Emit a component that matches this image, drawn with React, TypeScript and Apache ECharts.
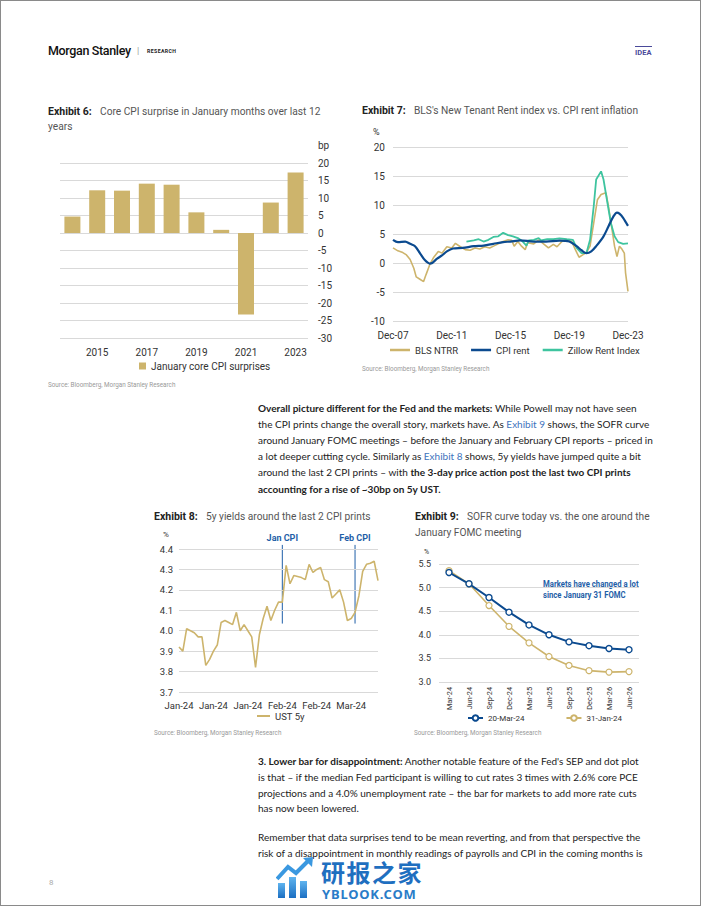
import React, { useEffect, useRef } from "react";
import * as echarts from "echarts";

// ---------- DATA ----------
const ex6Years = ["2014", "2015", "2016", "2017", "2018", "2019", "2020", "2021", "2022", "2023"];
const ex6Values = [4.7, 12.2, 12.1, 14.1, 13.8, 5.9, 0.9, -23.3, 8.7, 17.3];

const ex7XLabels = ["Dec-07", "Dec-11", "Dec-15", "Dec-19", "Dec-23"];
// months since Dec-07
const ntrrMonths = [0, 4, 8, 11, 14, 17, 19, 22, 25, 27, 30, 33, 37, 40, 44, 48, 51, 55, 59, 63, 67, 71, 75, 79, 83, 87, 90, 94, 97, 99, 102, 105, 108, 110, 115, 119, 123, 127, 131, 134, 138, 142, 146, 149, 152, 155, 158, 161, 164, 167, 170, 174, 176, 179, 181, 183, 185, 187, 189, 190, 192];
const ntrrValues = [2.6, 2.1, 1.8, 1.4, 0.6, -0.9, -2.4, -2.8, -3.2, -2.0, -0.3, 0.9, 2.0, 1.7, 2.8, 2.6, 3.4, 2.8, 2.3, 2.2, 2.6, 2.4, 2.8, 2.6, 3.0, 3.4, 3.7, 4.0, 3.9, 2.9, 3.7, 2.9, 2.3, 3.5, 3.3, 4.0, 3.3, 2.6, 3.2, 2.8, 3.7, 4.0, 3.7, 2.3, 1.0, 1.4, 1.8, 2.9, 6.9, 10.9, 11.8, 12.1, 9.8, 5.7, 2.9, 1.1, 2.9, 2.4, 1.7, -1.7, -4.9];
const cpiRentMonths = [0, 4, 10, 14, 18, 22, 26, 30, 32, 36, 40, 44, 49, 57, 66, 74, 82, 90, 96, 104, 115, 125, 136, 144, 150, 154, 158, 162, 166, 172, 176, 180, 183, 185, 188, 192];
const cpiRentValues = [4.0, 3.6, 3.7, 3.3, 2.9, 1.7, 0.5, -0.1, 0.0, 0.75, 1.3, 2.0, 2.5, 2.6, 2.9, 3.0, 3.3, 3.6, 3.7, 3.9, 3.7, 3.7, 3.85, 3.7, 2.9, 2.2, 1.7, 2.0, 2.9, 4.6, 6.3, 8.0, 8.7, 8.5, 7.8, 6.4];
const zillowMonths = [60, 66, 70, 74, 78, 82, 86, 90, 94, 98, 102, 106, 109, 111, 115, 119, 121, 126, 131, 136, 142, 147, 150, 154, 158, 161, 164, 166, 170, 172, 175, 178, 181, 184, 188, 192];
const zillowValues = [3.7, 3.9, 4.1, 3.7, 4.0, 4.5, 4.6, 5.2, 4.8, 4.6, 4.3, 3.7, 3.0, 3.9, 4.0, 4.3, 3.9, 4.1, 4.1, 4.25, 4.1, 4.0, 2.6, 1.7, 1.7, 4.0, 9.8, 14.4, 15.8, 14.4, 10.6, 6.9, 4.6, 3.6, 3.3, 3.4];

const ex8Dates = [
  "2024-01-04", "2024-01-05", "2024-01-08", "2024-01-09", "2024-01-10", "2024-01-11", "2024-01-12", "2024-01-16", "2024-01-17", "2024-01-18",
  "2024-01-19", "2024-01-22", "2024-01-23", "2024-01-24", "2024-01-25", "2024-01-26", "2024-01-29", "2024-01-30", "2024-01-31",
  "2024-02-01", "2024-02-02", "2024-02-05", "2024-02-06", "2024-02-07", "2024-02-08", "2024-02-09", "2024-02-12", "2024-02-13", "2024-02-14",
  "2024-02-15", "2024-02-16", "2024-02-20", "2024-02-21", "2024-02-22", "2024-02-23", "2024-02-26", "2024-02-27", "2024-02-28", "2024-02-29",
  "2024-03-01", "2024-03-04", "2024-03-05", "2024-03-06", "2024-03-07", "2024-03-08", "2024-03-11", "2024-03-12", "2024-03-13", "2024-03-14",
  "2024-03-15", "2024-03-18", "2024-03-19", "2024-03-20",
];
const ex8Values = [3.92, 3.90, 4.01, 4.00, 3.99, 3.97, 3.97, 3.83, 3.86, 3.90, 3.93, 4.04, 4.05, 4.04, 4.03, 4.09, 4.00, 4.03, 4.00, 3.97, 3.82, 3.98, 4.06, 4.12, 4.05, 4.10, 4.14, 4.14, 4.32, 4.23, 4.27, 4.265, 4.26, 4.25, 4.325, 4.285, 4.30, 4.31, 4.25, 4.24, 4.16, 4.18, 4.20, 4.14, 4.05, 4.06, 4.09, 4.17, 4.29, 4.325, 4.33, 4.34, 4.245];
const ex8Events = [
  { date: "2024-02-13", label: "Jan CPI", from: 4.035, to: 4.42 },
  { date: "2024-03-12", label: "Feb CPI", from: 4.035, to: 4.42 },
];
const monthNames = ["Jan", "Feb", "Mar", "Apr", "May", "Jun", "Jul", "Aug", "Sep", "Oct", "Nov", "Dec"];

const ex9Cats = ["Mar-24", "Jun-24", "Sep-24", "Dec-24", "Mar-25", "Jun-25", "Sep-25", "Dec-25", "Mar-26", "Jun-26"];
const ex9Mar20 = [5.32, 5.08, 4.79, 4.48, 4.21, 4.0, 3.85, 3.77, 3.71, 3.685];
const ex9Jan31 = [5.36, 5.08, 4.62, 4.18, 3.83, 3.54, 3.35, 3.24, 3.21, 3.22];

// ---------- STYLE ----------
const GOLD = "#CDB46C";
const NAVY = "#0B4A8F";
const TEAL = "#3EC49F";
const LINK = "#1F5FA8";
const GRID = "#D9D9D9";
const AX = "#333";
const FONT = "Roboto";

function Chart({ option, style, after }: { option: any; style: React.CSSProperties; after?: (c: any) => void }) {
  const ref = useRef<HTMLDivElement>(null);
  useEffect(() => {
    const c = echarts.init(ref.current!, null, { renderer: "svg" });
    c.setOption(option);
    if (after) after(c);
    return () => c.dispose();
  }, []);
  return <div ref={ref} style={{ position: "absolute", ...style }} />;
}

const ex6Option = {
  animation: false,
  textStyle: { fontFamily: FONT },
  grid: { left: 20, top: 28, width: 248, height: 175 },
  xAxis: {
    type: "category",
    data: ex6Years,
    axisLine: { show: false },
    axisTick: { show: false },
    axisLabel: { interval: (i: number) => i % 2 === 1, color: AX, fontSize: 10, margin: 9 },
  },
  yAxis: {
    type: "value",
    position: "right",
    min: -30,
    max: 20,
    interval: 5,
    axisLine: { show: false },
    axisTick: { show: false },
    axisLabel: { color: AX, fontSize: 10, margin: 10 },
    splitLine: { lineStyle: { color: GRID } },
  },
  legend: {
    top: 221,
    left: 94,
    icon: "rect",
    itemWidth: 7,
    itemHeight: 7,
    textStyle: { color: AX, fontSize: 10, fontFamily: FONT },
    data: ["January core CPI surprises"],
  },
  graphic: [
    { type: "text", x: 278, y: 10, style: { text: "bp", fill: AX, font: "10px Roboto", textVerticalAlign: "middle" } },
  ],
  series: [
    { type: "bar", name: "January core CPI surprises", data: ex6Values, barWidth: 16, itemStyle: { color: GOLD } },
  ],
};

const zip = (a: number[], b: number[]) => a.map((v, i) => [v, b[i]]);

const ex7Option = {
  animation: false,
  textStyle: { fontFamily: FONT },
  grid: { left: 38, top: 27, width: 235, height: 174 },
  xAxis: {
    type: "value",
    min: 0,
    max: 192,
    interval: 48,
    splitLine: { show: false },
    axisLine: { show: false },
    axisTick: { show: false },
    axisLabel: { formatter: (v: number) => ex7XLabels[v / 48], color: AX, fontSize: 10, margin: 9 },
  },
  yAxis: {
    type: "value",
    min: -10,
    max: 20,
    interval: 5,
    axisLine: { show: false },
    axisTick: { show: false },
    axisLabel: { color: AX, fontSize: 10, margin: 8 },
    splitLine: { lineStyle: { color: GRID } },
  },
  legend: {
    top: 220,
    left: 30,
    icon: "rect",
    itemWidth: 20,
    itemHeight: 2.5,
    itemGap: 13,
    textStyle: { color: AX, fontSize: 9.5, fontFamily: FONT },
    data: ["BLS NTRR", "CPI rent", "Zillow Rent Index"],
  },
  graphic: [
    { type: "text", x: 18, y: 12, style: { text: "%", fill: AX, font: "9px Roboto", textVerticalAlign: "middle" } },
  ],
  series: [
    { type: "line", name: "BLS NTRR", data: zip(ntrrMonths, ntrrValues), showSymbol: false, lineStyle: { color: GOLD, width: 1.6 }, itemStyle: { color: GOLD } },
    { type: "line", name: "Zillow Rent Index", data: zip(zillowMonths, zillowValues), showSymbol: false, lineStyle: { color: TEAL, width: 1.8 }, itemStyle: { color: TEAL } },
    { type: "line", name: "CPI rent", data: zip(cpiRentMonths, cpiRentValues), showSymbol: false, smooth: 0.3, lineStyle: { color: NAVY, width: 2.2 }, itemStyle: { color: NAVY } },
  ],
};

const ex8Option = {
  animation: false,
  textStyle: { fontFamily: FONT },
  grid: { left: 34, top: 24, width: 199, height: 143 },
  xAxis: {
    type: "category",
    data: ex8Dates,
    boundaryGap: false,
    axisLine: { show: false },
    axisTick: { show: false },
    axisLabel: {
      interval: 8,
      color: AX,
      fontSize: 9.5,
      margin: 8,
      formatter: (d: string) => monthNames[parseInt(d.slice(5, 7), 10) - 1] + "-" + d.slice(2, 4),
    },
  },
  yAxis: {
    type: "value",
    min: 3.7,
    max: 4.4,
    interval: 0.1,
    axisLine: { show: false },
    axisTick: { show: false },
    axisLabel: { color: AX, fontSize: 9.5, margin: 6, formatter: (v: number) => v.toFixed(1) },
    splitLine: { lineStyle: { color: GRID } },
  },
  legend: {
    top: 181,
    left: 107,
    icon: "rect",
    itemWidth: 13,
    itemHeight: 2,
    textStyle: { color: AX, fontSize: 9.5, fontFamily: FONT },
    data: ["UST 5y"],
  },
  graphic: [
    { id: "pct", type: "text", x: 18, y: 9, style: { text: "%", fill: AX, font: "8px Roboto", textVerticalAlign: "middle" } },
  ],
  series: [
    {
      type: "line",
      name: "UST 5y",
      data: ex8Values,
      showSymbol: false,
      lineStyle: { color: GOLD, width: 1.6 },
      itemStyle: { color: GOLD },
    },
  ],
};

const ex8After = (c: any) => {
  const g: any[] = [];
  ex8Events.forEach((e, i) => {
    const idx = ex8Dates.indexOf(e.date);
    const p0 = c.convertToPixel({ gridIndex: 0 }, [idx, e.from]);
    const p1 = c.convertToPixel({ gridIndex: 0 }, [idx, e.to]);
    g.push({
      id: "ev-line-" + i,
      type: "line",
      silent: true,
      shape: { x1: p0[0], y1: p0[1], x2: p1[0], y2: p1[1] },
      style: { stroke: LINK, lineWidth: 1 },
    });
    g.push({
      id: "ev-label-" + i,
      type: "text",
      silent: true,
      x: p1[0],
      y: p1[1] - 7,
      style: { text: e.label, fill: LINK, font: "bold 9px Roboto", textAlign: "center", textVerticalAlign: "middle" },
    });
  });
  c.setOption({ graphic: g });
};

const ex9Option = {
  animation: false,
  textStyle: { fontFamily: FONT },
  grid: { left: 34, top: 24, width: 200, height: 118 },
  xAxis: {
    type: "category",
    data: ex9Cats,
    boundaryGap: true,
    axisLine: { show: false },
    axisTick: { show: false },
    axisLabel: { rotate: 90, color: AX, fontSize: 7.3, margin: 5, interval: 0 },
  },
  yAxis: {
    type: "value",
    min: 3,
    max: 5.5,
    interval: 0.5,
    axisLine: { show: false },
    axisTick: { show: false },
    axisLabel: { color: AX, fontSize: 9, margin: 8, formatter: (v: number) => v.toFixed(1) },
    splitLine: { lineStyle: { color: GRID } },
  },
  legend: {
    top: 169,
    left: 57,
    itemWidth: 15,
    itemHeight: 7,
    itemGap: 41,
    textStyle: { color: AX, fontSize: 8, fontFamily: FONT },
    data: ["20-Mar-24", "31-Jan-24"],
  },
  graphic: [
    { type: "text", x: 19, y: 12, style: { text: "%", fill: AX, font: "7px Roboto", textVerticalAlign: "middle" } },
    {
      type: "text",
      x: 138,
      y: 39,
      scaleX: 0.86,
      style: {
        text: "Markets have changed a lot\nsince January 31 FOMC",
        fill: LINK,
        font: "bold 9px Roboto",
        lineHeight: 10.5,
      },
    },
  ],
  series: [
    {
      type: "line",
      name: "31-Jan-24",
      data: ex9Jan31,
      symbol: "circle",
      symbolSize: 6,
      lineStyle: { color: GOLD, width: 1.6 },
      itemStyle: { color: "#fff", borderColor: GOLD, borderWidth: 1.2 },
    },
    {
      type: "line",
      name: "20-Mar-24",
      data: ex9Mar20,
      symbol: "circle",
      symbolSize: 6,
      lineStyle: { color: NAVY, width: 2 },
      itemStyle: { color: "#fff", borderColor: NAVY, borderWidth: 1.4 },
    },
  ],
};

// ---------- TEXT HELPERS ----------
function T({ x, y, size = 10, lh = 14, children, style }: any) {
  return (
    <div
      style={{
        position: "absolute",
        left: x,
        top: y - lh / 2,
        lineHeight: lh + "px",
        fontSize: size,
        whiteSpace: "nowrap",
        ...style,
      }}
    >
      {children}
    </div>
  );
}

const bodyStyle: React.CSSProperties = { fontFamily: "Lato", color: "#222", fontSize: 10.85 };
const B = ({ children }: any) => <b style={{ fontWeight: 700 }}>{children}</b>;
const L = ({ children }: any) => <span style={{ color: "#3E74BD" }}>&nbsp;{children}&nbsp;</span>;

function Title({ x, y, ex, text }: any) {
  return (
    <T x={x} y={y} size={10.2} style={{ fontFamily: FONT, color: "#555" }}>
      <span style={{ fontWeight: 700, color: "#222", fontSize: 10.5, display: "inline-block", width: 52 }}>Exhibit {ex}:</span>
      {text}
    </T>
  );
}

const Source = ({ x, y }: any) => (
  <T x={x} y={y} size={6.3} lh={8} style={{ fontFamily: FONT, color: "#999" }}>
    Source: Bloomberg, Morgan Stanley Research
  </T>
);

export default function App() {
  return (
    <div
      style={{
        position: "absolute",
        left: 0,
        top: 0,
        width: 702,
        height: 907,
        background: "#fff",
        overflow: "hidden",
        fontFamily: FONT,
      }}
    >
      <div style={{ position: "absolute", left: 0, top: 0, width: 701, height: 906, border: "1.5px solid #8a8a8a", boxSizing: "border-box" }} />

      {/* header */}
      <T x={48} y={51} size={12.5} lh={16} style={{ fontFamily: FONT, fontWeight: 500, color: "#111", letterSpacing: -0.35 }}>
        Morgan Stanley
      </T>
      <T x={137} y={51} size={9} lh={12} style={{ color: "#999" }}>|</T>
      <T x={147} y={51} size={5.2} lh={8} style={{ fontWeight: 700, color: "#222", letterSpacing: 0.4 }}>RESEARCH</T>
      <div style={{ position: "absolute", left: 635, top: 46, width: 17, borderTop: "1.5px solid #4a4a9a" }} />
      <T x={635} y={52} size={7.5} lh={9} style={{ fontWeight: 700, color: "#4a4a9a", letterSpacing: 0.1 }}>IDEA</T>

      {/* Exhibit 6 */}
      <Title x={48} y={112} ex="6" text="Core CPI surprise in January months over last 12" />
      <T x={48} y={127} size={10.2} style={{ color: "#555" }}>years</T>
      <Chart option={ex6Option} style={{ left: 40, top: 135, width: 310, height: 245 }} />
      <Source x={48} y={385} />

      {/* Exhibit 7 */}
      <Title x={362} y={111} ex="7" text="BLS's New Tenant Rent index vs. CPI rent inflation" />
      <Chart option={ex7Option} style={{ left: 355, top: 120, width: 330, height: 245 }} />
      <Source x={362} y={369} />

      {/* paragraph 1 */}
      <div style={bodyStyle}>
        <T x={258} y={408} lh={16}><B>Overall picture different for the Fed and the markets:</B> While Powell may not have seen</T>
        <T x={258} y={424} lh={16}>the CPI prints change the overall story, markets have. As<L>Exhibit 9</L>shows, the SOFR curve</T>
        <T x={258} y={440} lh={16}>around January FOMC meetings – before the January and February CPI reports – priced in</T>
        <T x={258} y={456} lh={16}>a lot deeper cutting cycle. Similarly as<L>Exhibit 8</L>shows, 5y yields have jumped quite a bit</T>
        <T x={258} y={472} lh={16}>around the last 2 CPI prints – with <B>the 3-day price action post the last two CPI prints</B></T>
        <T x={258} y={489} lh={16}><B>accounting for a rise of ~30bp on 5y UST.</B></T>
      </div>

      {/* Exhibit 8 */}
      <Title x={154} y={517} ex="8" text="5y yields around the last 2 CPI prints" />
      <Chart option={ex8Option} style={{ left: 145, top: 525, width: 245, height: 200 }} after={ex8After} />
      <Source x={154} y={733} />

      {/* Exhibit 9 */}
      <Title x={415} y={517} ex="9" text="SOFR curve today vs. the one around the" />
      <T x={415} y={533} size={10.2} style={{ color: "#555" }}>January FOMC meeting</T>
      <Chart option={ex9Option} style={{ left: 405, top: 540, width: 270, height: 190 }} />
      <Source x={414} y={733} />

      {/* paragraph 2 & 3 */}
      <div style={bodyStyle}>
        <T x={258} y={761} lh={16}><B>3. Lower bar for disappointment:</B> Another notable feature of the Fed's SEP and dot plot</T>
        <T x={258} y={777} lh={16}>is that – if the median Fed participant is willing to cut rates 3 times with 2.6% core PCE</T>
        <T x={258} y={793} lh={16}>projections and a 4.0% unemployment rate – the bar for markets to add more rate cuts</T>
        <T x={258} y={808} lh={16}>has now been lowered.</T>
        <T x={258} y={837} lh={16}>Remember that data surprises tend to be mean reverting, and from that perspective the</T>
        <T x={258} y={853} lh={12}>risk of a disappointment in monthly readings of payrolls and CPI in the coming months is</T>
      </div>

      {/* page number */}
      <T x={49} y={883} size={8} lh={10} style={{ color: "#aaa" }}>8</T>

      {/* watermark */}
      <svg style={{ position: "absolute", left: 276, top: 857 }} width={40} height={44}>
        <defs>
          <linearGradient id="wm" x1="0" y1="1" x2="0" y2="0">
            <stop offset="0" stopColor="#1c6fc2" />
            <stop offset="1" stopColor="#5fb4ef" />
          </linearGradient>
        </defs>
        <rect x={2} y={26} width={7} height={15} fill="url(#wm)" />
        <rect x={13} y={20} width={7} height={21} fill="url(#wm)" />
        <rect x={24} y={24} width={7} height={17} fill="url(#wm)" />
        <polyline points="1,22 12,10 20,16 33,3" fill="none" stroke="#3a98e0" strokeWidth={4} />
        <polygon points="27,1 37,0 36,10" fill="#3a98e0" />
      </svg>
      <div style={{ position: "absolute", left: 321, top: 862, whiteSpace: "nowrap", fontWeight: 700 }}>
        <div style={{ fontFamily: "Noto Sans CJK SC", fontSize: 24, lineHeight: "20px", color: "#1f6fc0", letterSpacing: 1.5 }}>研报之家</div>
        <div style={{ fontFamily: "Noto Sans", fontSize: 13, lineHeight: "12px", marginTop: 5.5, marginLeft: 1, color: "#2a7cc8", letterSpacing: 0.8 }}>YBLOOK.COM</div>
      </div>
    </div>
  );
}
